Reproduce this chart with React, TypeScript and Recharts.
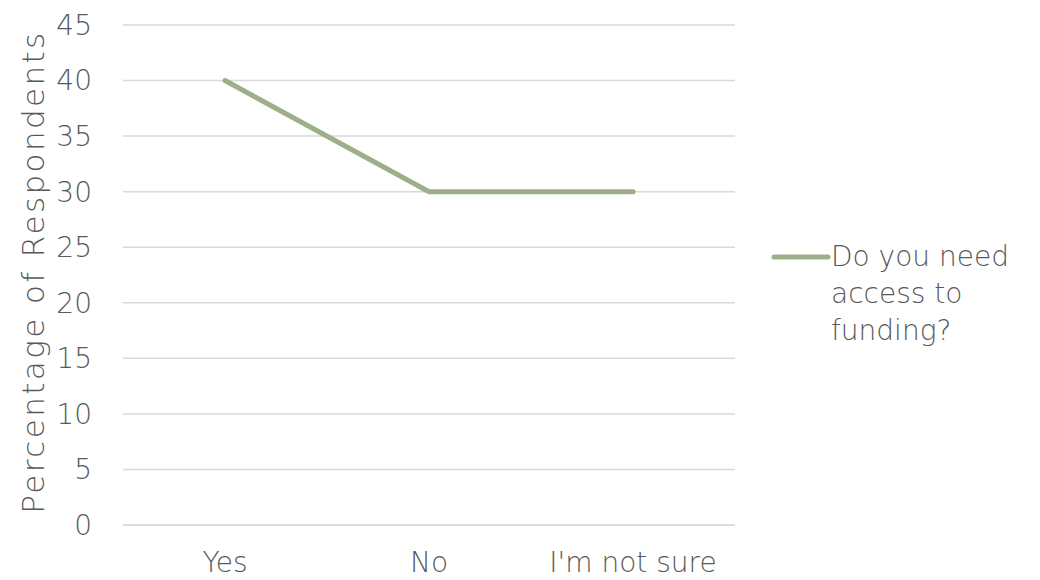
import React from 'react';
import { LineChart, Line, XAxis, YAxis, CartesianGrid, Legend } from 'recharts';

const categories = ['Yes', 'No', "I'm not sure"];
const funding = [40, 30, 30];
const yTicks = [0, 5, 10, 15, 20, 25, 30, 35, 40, 45];
const seriesName = 'Do you need access to funding?';
const legendLines = ['Do you need', 'access to', 'funding?'];

const data = categories.map((c, i) => ({ answer: c, funding: funding[i] }));

const FONT = '"DejaVu Sans", sans-serif';
const WEIGHT = 200;
const TEXT = '#595959';
const LINE = '#9caf88';

const YLabel = (props: any) => {
  const vb = props.viewBox || { x: 0, y: 0, width: 0, height: 0 };
  const cx = 33;
  const cy = vb.y + vb.height / 2 - 3;
  return (
    <text
      x={cx}
      y={cy}
      transform={`rotate(-90, ${cx}, ${cy})`}
      textAnchor="middle"
      dominantBaseline="central"
      fill={TEXT}
      fontFamily={FONT}
      fontWeight={WEIGHT}
      fontSize={31}
      letterSpacing={2.4}
    >
      Percentage of Respondents
    </text>
  );
};

const LegendContent = () => (
  <div style={{ display: 'flex', alignItems: 'flex-start', fontFamily: FONT, fontWeight: WEIGHT, color: TEXT }}>
    <svg width={60} height={42} style={{ flex: 'none' }}>
      <line x1={3} y1={21} x2={57} y2={21} stroke={LINE} strokeWidth={5} strokeLinecap="round" />
    </svg>
    <div style={{ fontSize: 28, lineHeight: '37px', paddingTop: 2 }}>
      {legendLines.map((l) => (
        <div key={l}>{l}</div>
      ))}
    </div>
  </div>
);

const App: React.FC = () => {
  return (
    <div style={{ position: 'absolute', left: 0, top: 0, width: 1040, height: 580, background: '#fff' }}>
      <LineChart width={1040} height={580} data={data} margin={{ top: 25, right: 305, left: 0, bottom: 25 }}>
        <CartesianGrid vertical={false} stroke="#d9d9d9" strokeWidth={1.5} />
        <XAxis
          dataKey="answer"
          height={30}
          padding={{ left: 102, right: 102 }}
          axisLine={{ stroke: '#d9d9d9', strokeWidth: 1.5 }}
          tickLine={false}
          tickSize={0}
          tickMargin={27}
          tick={{ fontSize: 28, fill: TEXT, fontFamily: FONT, fontWeight: WEIGHT }}
        />
        <YAxis
          width={123}
          domain={[0, 45]}
          ticks={yTicks}
          axisLine={false}
          tickLine={false}
          tickSize={0}
          tickMargin={31}
          tick={{ fontSize: 28, fill: TEXT, fontFamily: FONT, fontWeight: WEIGHT }}
          label={<YLabel />}
        />
        <Legend
          verticalAlign="middle"
          layout="horizontal"
          wrapperStyle={{ left: 771, top: 236, width: 269 }}
          content={<LegendContent />}
        />
        <Line
          type="linear"
          dataKey="funding"
          name={seriesName}
          stroke={LINE}
          strokeWidth={5}
          strokeLinecap="round"
          dot={false}
          activeDot={false}
          isAnimationActive={false}
        />
      </LineChart>
    </div>
  );
};

export default App;
